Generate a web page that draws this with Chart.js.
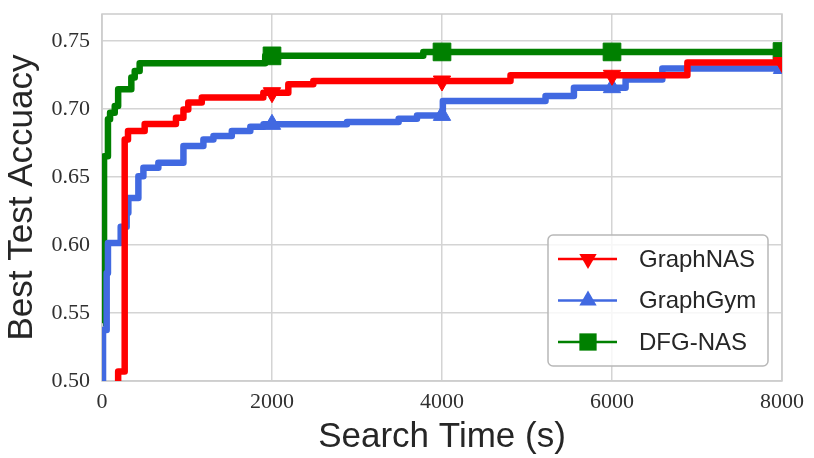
<!DOCTYPE html>
<html>
<head>
<meta charset="utf-8">
<script src="https://cdn.jsdelivr.net/npm/chart.js@4.4.1/dist/chart.umd.min.js"></script>
<style>
  html, body { margin: 0; padding: 0; background: #fff; }
  #wrap { width: 814px; height: 458px; }
</style>
</head>
<body>
<div id="wrap"><canvas id="chart" width="814" height="458"></canvas></div>
<script>
// search time (s) where the best accuracy changed, and the best accuracy from there on
const graphNasTimes = [180, 190, 267, 306, 502, 870, 958, 1015, 1174, 1898, 2000, 2192, 2486, 4000, 4806, 6000, 6887, 8000];
const graphNasAcc   = [0.48, 0.5069, 0.6777, 0.684, 0.689, 0.6937, 0.6998, 0.7048, 0.7085, 0.7121, 0.7121, 0.7183, 0.7207, 0.7207, 0.7249, 0.7249, 0.7343, 0.7343];

const graphGymTimes = [0, 12, 55, 70, 220, 290, 310, 428, 487, 663, 958, 1193, 1311, 1527, 1745, 1900, 2000, 2882, 3490, 3706, 4000, 4010, 5218, 5552, 6000, 6160, 6592, 8000];
const graphGymAcc   = [0.47, 0.5376, 0.5794, 0.6015, 0.6135, 0.6237, 0.6347, 0.6506, 0.6569, 0.6605, 0.6728, 0.6777, 0.6802, 0.6839, 0.6871, 0.6888, 0.6888, 0.6905, 0.693, 0.6954, 0.6954, 0.706, 0.7097, 0.7158, 0.7158, 0.7219, 0.7299, 0.7299];

const dfgNasTimes = [12, 24, 70, 95, 150, 190, 345, 385, 443, 1920, 2000, 3780, 4000, 6000, 8000];
const dfgNasAcc   = [0.5425, 0.6654, 0.6925, 0.6974, 0.7023, 0.7146, 0.7232, 0.728, 0.7338, 0.7392, 0.7392, 0.7421, 0.7421, 0.7421, 0.7424];

const markerTimes = [2000, 4000, 6000, 8000];
const xTicks = [0, 2000, 4000, 6000, 8000];
const yTicks = [0.50, 0.55, 0.60, 0.65, 0.70, 0.75];

const seriesNames = ['GraphNAS', 'GraphGym', 'DFG-NAS'];
const seriesColors = ['#ff0000', '#4169e1', '#008000'];

const toPoints = (ts, vs) => ts.map((t, i) => ({ x: t, y: vs[i] }));

function makeSet(i, data, style, rotation, radius) {
  return {
    label: seriesNames[i],
    data,
    stepped: true,
    borderColor: seriesColors[i],
    backgroundColor: seriesColors[i],
    borderWidth: 6.5,
    borderJoinStyle: 'round',
    borderCapStyle: 'butt',
    pointStyle: style,
    rotation,
    pointBorderWidth: 1,
    pointBorderColor: seriesColors[i],
    pointBackgroundColor: seriesColors[i],
    pointRadius: ctx => (ctx.raw && markerTimes.includes(ctx.raw.x)) ? radius : 0,
    pointHoverRadius: 0,
    clip: 0
  };
}

// frame round the plot area
const framePlugin = {
  id: 'frame',
  beforeDatasetsDraw(chart) {
    const { ctx, chartArea: a } = chart;
    ctx.save();
    ctx.strokeStyle = '#cccccc';
    ctx.lineWidth = 1.5;
    ctx.strokeRect(a.left, a.top, a.right - a.left, a.bottom - a.top);
    ctx.restore();
  }
};

function drawMarker(ctx, kind, x, y, r) {
  ctx.beginPath();
  if (kind === 'down') {
    ctx.moveTo(x, y + r);
    ctx.lineTo(x - r * 0.866, y - r / 2);
    ctx.lineTo(x + r * 0.866, y - r / 2);
  } else if (kind === 'up') {
    ctx.moveTo(x, y - r);
    ctx.lineTo(x - r * 0.866, y + r / 2);
    ctx.lineTo(x + r * 0.866, y + r / 2);
  } else {
    ctx.rect(x - r * 0.72, y - r * 0.72, r * 1.44, r * 1.44);
  }
  ctx.closePath();
  ctx.fill();
}

// matplotlib-like legend box, lower right
const legendPlugin = {
  id: 'mplLegend',
  afterDraw(chart) {
    const { ctx } = chart;
    const x0 = 548, y0 = 235, w = 220, h = 131, rad = 5;
    const kinds = ['down', 'up', 'square'];
    const sizes = [10, 10, 12];
    const rows = [259, 300.5, 342];
    ctx.save();
    ctx.beginPath();
    ctx.roundRect(x0, y0, w, h, rad);
    ctx.fillStyle = 'rgba(255,255,255,0.8)';
    ctx.fill();
    ctx.strokeStyle = '#b8b8b8';
    ctx.lineWidth = 1.5;
    ctx.stroke();
    ctx.font = '24px "Liberation Sans", Arial, sans-serif';
    ctx.textBaseline = 'middle';
    ctx.textAlign = 'left';
    for (let i = 0; i < 3; i++) {
      const y = rows[i];
      ctx.strokeStyle = seriesColors[i];
      ctx.fillStyle = seriesColors[i];
      ctx.lineWidth = 2.5;
      ctx.beginPath();
      ctx.moveTo(558, y);
      ctx.lineTo(617, y);
      ctx.stroke();
      drawMarker(ctx, kinds[i], 588, y, sizes[i]);
      ctx.fillStyle = '#262626';
      ctx.fillText(seriesNames[i], 639, y + 1);
    }
    ctx.restore();
  }
};

new Chart(document.getElementById('chart'), {
  type: 'line',
  data: {
    datasets: [
      makeSet(0, toPoints(graphNasTimes, graphNasAcc), 'triangle', 180, 10),
      makeSet(1, toPoints(graphGymTimes, graphGymAcc), 'triangle', 0, 10),
      makeSet(2, toPoints(dfgNasTimes, dfgNasAcc), 'rect', 0, 12.5)
    ]
  },
  options: {
    responsive: false,
    animation: false,
    events: [],
    layout: { autoPadding: false, padding: { top: 14, right: 32, left: 0, bottom: 0 } },
    plugins: {
      legend: { display: false },
      tooltip: { enabled: false }
    },
    scales: {
      x: {
        type: 'linear',
        min: 0,
        max: 8000,
        afterFit: s => { s.height = 77; s.paddingLeft = 0; s.paddingRight = 0; },
        afterBuildTicks: s => { s.ticks = xTicks.map(v => ({ value: v })); },
        grid: { color: '#d4d4d4', lineWidth: 1.5, drawTicks: false },
        border: { display: false },
        ticks: {
          padding: 8,
          color: '#303030',
          font: { family: '"Liberation Serif", "DejaVu Serif", serif', size: 22 },
          maxRotation: 0,
          callback: v => String(v)
        },
        title: {
          display: true,
          text: 'Search Time (s)',
          color: '#262626',
          font: { family: '"Liberation Sans", Arial, sans-serif', size: 35 },
          padding: { top: 0, bottom: 0 }
        }
      },
      y: {
        min: 0.5,
        max: 0.77,
        afterFit: s => { s.width = 102; s.paddingTop = 0; s.paddingBottom = 0; },
        afterBuildTicks: s => { s.ticks = yTicks.map(v => ({ value: v })); },
        grid: { color: '#d4d4d4', lineWidth: 1.5, drawTicks: false },
        border: { display: false },
        ticks: {
          padding: 12,
          color: '#303030',
          font: { family: '"Liberation Serif", "DejaVu Serif", serif', size: 22 },
          callback: v => v.toFixed(2)
        },
        title: {
          display: true,
          text: 'Best Test Accuacy',
          color: '#262626',
          font: { family: '"Liberation Sans", Arial, sans-serif', size: 35 },
          padding: { top: 1, bottom: 0 }
        }
      }
    }
  },
  plugins: [framePlugin, legendPlugin]
});
</script>
</body>
</html>
